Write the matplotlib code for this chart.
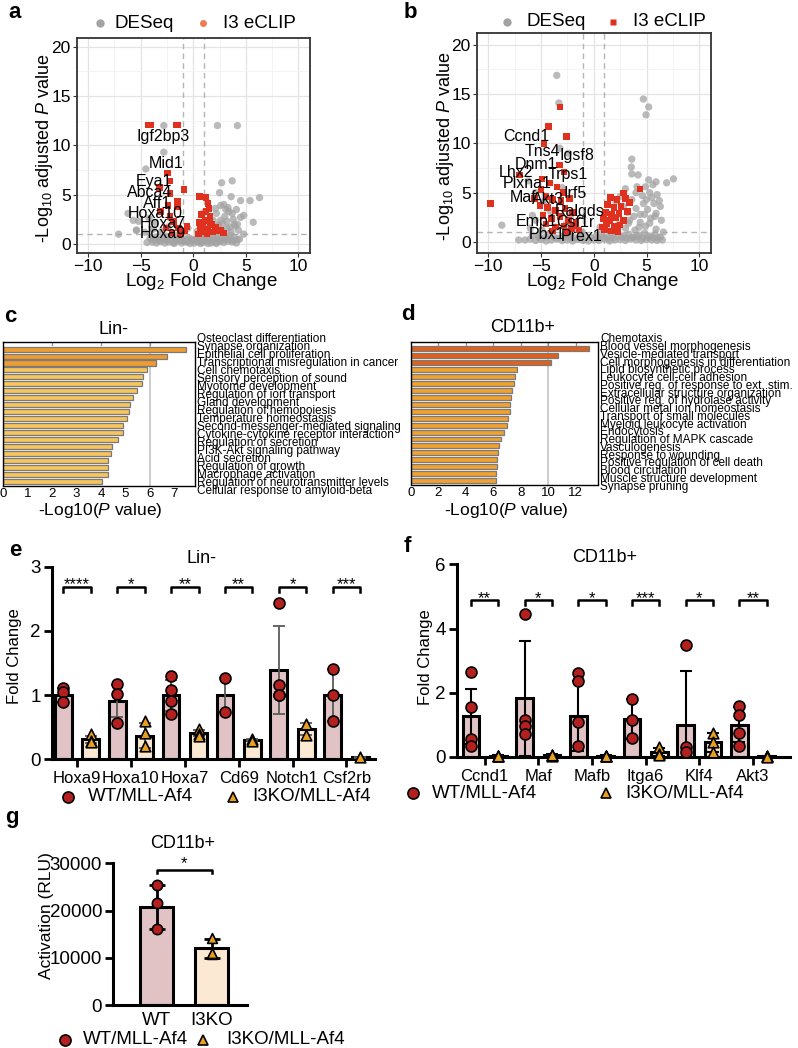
import matplotlib
matplotlib.use('Agg')
import matplotlib.pyplot as plt
from matplotlib.lines import Line2D
import numpy as np

plt.rcParams['font.family'] = ['Liberation Sans', 'DejaVu Sans']
plt.rcParams['mathtext.fontset'] = 'custom'
plt.rcParams['mathtext.rm'] = 'Liberation Sans'
plt.rcParams['mathtext.it'] = 'Liberation Sans:italic'
plt.rcParams['mathtext.bf'] = 'Liberation Sans:bold'

# ---------------- data ----------------
# panel a volcano (Lin-)
a_gray_x = [-4.4, -3.9, -3.5, -3.1, -2.7, -2.3, -1.9, -1.5, -1.1, -0.7, -0.3, 0.1, 0.5, 0.9, 1.3, 1.7, 2.1, 2.5, 2.9, 3.3, 3.7, 4.1,
            -4.1, -3.6, -3.2, -2.6, -2.1, -1.7, -1.2, -0.8, -0.4, 0.3, 0.7, 1.1, 1.5, 1.9, 2.3, 2.7, 3.1, 3.5, 3.9, 4.4,
            -5.4, -4.6, -3.8, -3.0, -2.4, -1.0, -0.5, 0.4, 0.8, 1.2, 2.0, 2.4, 2.8, 3.2, 3.6, 4.0, 4.3, 4.8,
            -6.2, -5.7, -5.2, -4.2, -3.6, 1.0, 1.6, 2.2, 2.6, 3.0, 3.4, 3.8, 4.2, 4.5, 4.8, 5.7,
            -2.5, -1.8, -1.3, -0.9, -0.5, -0.1, 0.3, 0.7, 1.0, 1.4, 1.8, 2.2,
            -3.8, -3.3, -2.9, -2.5, -2.0, -1.6, -1.0, -0.6, -0.2, 0.2, 0.6, 1.0, 1.4, 1.8, 2.2, 2.6, 3.0, 3.4, 3.8, 4.2,
            1.3, 1.9, 2.4, 2.8, 3.2, 3.5, 3.9, 2.1, 2.6, 3.1, 3.7, 4.1,
            -2.8, 2.3, 4.2, -2.8, -4.5, 2.7, 3.7, 2.5, 3.6, 4.5, 5.4, 6.3, 2.9, 3.3, -7.1, -5.4]
a_gray_y = [0.15, 0.2, 0.1, 0.25, 0.1, 0.2, 0.15, 0.3, 0.1, 0.2, 0.05, 0.1, 0.2, 0.15, 0.3, 0.1, 0.2, 0.25, 0.15, 0.3, 0.2, 0.1,
            0.6, 0.7, 0.5, 0.8, 0.6, 0.9, 0.7, 0.5, 0.6, 0.55, 0.8, 0.6, 0.9, 0.7, 0.5, 0.8, 0.6, 0.9, 0.7, 0.5,
            1.4, 1.2, 1.5, 1.3, 1.7, 1.2, 1.6, 1.3, 1.8, 1.1, 1.5, 1.9, 1.3, 1.6, 1.2, 1.8, 1.4, 1.0,
            3.1, 2.4, 2.3, 2.6, 2.2, 3.2, 2.6, 3.1, 2.4, 2.8, 3.3, 2.5, 2.0, 2.7, 2.9, 2.2,
            0.35, 0.05, 0.4, 0.3, 0.25, 0.35, 0.3, 0.05, 0.4, 0.05, 0.35, 0.05,
            0.45, 0.35, 0.55, 0.4, 0.45, 0.6, 0.35, 0.45, 0.5, 0.4, 0.45, 0.35, 0.5, 0.4, 0.6, 0.45, 0.4, 0.5, 0.35, 0.45,
            2.0, 2.4, 1.9, 2.1, 2.3, 1.7, 2.0, 3.6, 3.9, 3.5, 3.1, 3.5,
            12.0, 12.0, 12.0, 9.3, 7.6, 6.2, 6.4, 5.2, 4.8, 4.4, 4.4, 4.7, 4.0, 3.7, 1.0, 1.4]
a_red_x = [-4.3, -4.0, -1.5, -1.6, -2.45, -2.2, -3.2, -0.9, -2.2, -1.5, -1.5, -3.1, -2.4, -2.2, -1.9, -1.4, -2.6, -0.8,
           -1.2, -0.6, -2.0, 0.6, 1.2, 1.4, 1.5, 1.2, 0.8, 1.6, 1.1, 0.6, 1.8, 2.1, 0.7, 1.4, 2.6, 2.9, 1.0, 0.5, 1.9,
           0.9, 1.6, 1.3, 2.3]
a_red_y = [12.05, 12.05, 12.05, 12.05, 7.2, 6.4, 5.75, 5.5, 5.1, 4.3, 3.8, 3.3, 3.9, 2.8, 2.3, 1.6, 1.6, 1.3,
           1.0, 1.75, 1.1, 4.8, 4.7, 4.1, 3.6, 3.3, 3.0, 2.8, 2.4, 2.2, 2.0, 1.7, 1.5, 1.5, 1.4, 1.1, 1.2, 1.0, 1.2,
           1.8, 2.2, 1.0, 1.3]
a_genes = ['Igf2bp3', 'Mid1', 'Eya1', 'Abca4', 'Aff1', 'Hoxa10', 'Hoxa7', 'Hoxa9']
a_gene_x = [-2.86, -2.57, -3.7, -4.1, -3.4, -3.6, -2.86, -2.9]
a_gene_y = [10.85, 8.2, 6.3, 5.2, 4.15, 3.1, 2.1, 1.1]

# panel b volcano (CD11b+)
b_gray_x = [-6.5, -6.0, -5.5, -5.0, -4.5, -4.0, -3.5, -3.0, -2.5, -2.0, -1.5, -1.0, -0.5, 0.0, 0.5, 1.0, 1.5, 2.0, 2.5, 3.0, 3.5, 4.0,
            4.5, 5.0, 5.5, 6.0, 6.5,
            -5.8, -5.2, -4.3, -3.8, -2.8, -2.2, -1.2, -0.7, 0.2, 0.7, 1.3, 1.8, 2.3, 2.8, 3.3, 3.8, 4.3, 4.8, 5.3, 5.8, 6.3,
            -8.7, -6.0, -5.5, -4.9, -3.6, -2.6, -1.6, -1.1, 0.6, 1.5, 2.4, 3.0, 3.4, 3.9, 4.4, 4.9, 5.4, 5.9, 6.4, 6.6,
            -5.8, -4.7, -4.1, -2.2, 2.1, 2.8, 3.2, 3.6, 4.0, 4.4, 4.7, 5.1, 5.5, 5.9, 6.3,
            -5.2, -4.6, -3.4, -2.9, -2.4, -1.8, -1.3, -0.3, 0.4, 0.9, 1.4, 1.9, 2.6, 3.1, 3.6, 4.1, 4.6, 5.1, 5.6, 6.1,
            3.3, 3.8, 4.3, 4.8, 5.3, 5.8, 4.1, 4.6, 5.0, 5.7, 6.2,
            -3.5, -3.3, 4.7, 5.2, 4.95, -3.2, -2.4, 3.6, 3.55, 3.6, 4.2, 5.2, 7.55, 5.9, 6.9, 4.9, 5.6, 3.0, 4.0, 5.3,
            6.0, 2.5, -7.1, -6.2, -5.5, -3.0]
b_gray_y = [0.2, 0.3, 0.15, 0.25, 0.1, 0.2, 0.3, 0.15, 0.2, 0.1, 0.25, 0.15, 0.1, 0.2, 0.15, 0.3, 0.1, 0.2, 0.25, 0.15, 0.3, 0.2,
            0.15, 0.25, 0.2, 0.15, 0.2,
            0.7, 0.6, 0.8, 0.5, 0.7, 0.6, 0.9, 0.5, 0.6, 0.8, 0.5, 0.7, 0.9, 0.6, 0.8, 0.5, 0.7, 0.9, 0.6, 0.8, 0.5,
            1.7, 1.4, 2.2, 1.2, 1.5, 1.8, 1.3, 1.0, 1.5, 1.1, 1.8, 1.4, 2.2, 1.2, 2.0, 1.6, 2.4, 1.3, 2.2, 1.0,
            2.7, 4.1, 3.1, 2.7, 4.1, 3.6, 3.0, 4.3, 3.4, 2.8, 3.9, 3.3, 4.5, 2.9, 3.6,
            0.45, 0.5, 0.4, 0.55, 0.45, 0.4, 0.5, 0.45, 0.4, 0.5, 0.35, 0.45, 0.5, 0.4, 0.45, 0.55, 0.4, 0.5, 0.45, 0.4,
            1.9, 2.6, 1.5, 2.8, 1.9, 2.6, 5.6, 4.7, 4.3, 3.9, 4.2,
            16.9, 14.1, 14.5, 13.7, 12.9, 9.5, 9.0, 8.4, 7.6, 6.9, 6.8, 6.3, 6.4, 6.1, 6.0, 5.6, 5.8, 5.4, 5.0, 5.0,
            4.8, 4.6, 0.2, 6.2, 5.0, 5.5]
b_red_x = [-9.75, -7.03, -4.3, -3.2, -2.6, -4.7, -3.25, -2.8, -4.9, -4.2, -5.0, -3.5, -2.9, -4.5, -3.9, -3.1, -2.3, -5.1,
           -4.4, -3.6, -2.7, -2.0, -4.8, -4.0, -3.2, -2.4, -1.7, -4.5, -3.6, -2.8, -2.1, -1.4, -3.9, -2.5, -1.9, -5.6,
           4.4, 2.8, 1.6, 2.2, 3.0, 1.3, 1.9, 2.6, 1.1, 1.7, 2.4, 3.2, 0.9, 1.5, 2.1, 2.8, 1.2, 1.9, 2.5, 1.0, 1.7, 2.3,
           0.8, 3.4]
b_red_y = [3.9, 6.8, 11.7, 13.7, 10.7, 10.0, 7.8, 7.1, 6.4, 6.0, 5.3, 5.6, 5.0, 4.6, 4.3, 4.2, 4.4, 3.7,
           3.5, 3.2, 3.4, 3.0, 2.7, 2.4, 2.6, 2.2, 2.0, 1.8, 1.5, 1.6, 1.3, 1.2, 1.1, 1.05, 1.6, 4.4,
           5.35, 4.95, 4.5, 4.3, 4.4, 3.8, 3.5, 3.6, 3.0, 2.8, 2.9, 3.1, 2.4, 2.2, 2.5, 2.2, 1.8, 1.6, 1.7, 1.2, 1.1, 1.05,
           1.5, 4.0]
b_genes = ['Ccnd1', 'Tns4', 'Igsf8', 'Dnm1', 'Lhx2', 'Trps1', 'Plxna1', 'Irf5', 'Maf', 'Akt3', 'Ralgds', 'Emp1',
           'Csf1r', 'Pbx1', 'Prex1']
b_gene_x = [-6.4, -4.9, -1.6, -5.5, -7.4, -2.5, -6.3, -1.75, -6.7, -4.3, -1.3, -5.4, -1.75, -4.4, -1.1]
b_gene_y = [10.7, 9.2, 8.8, 7.9, 7.0, 6.8, 5.9, 4.95, 4.5, 4.3, 3.1, 2.1, 2.0, 0.8, 0.55]

# panel c enrichment (Lin-)
c_terms = ['Osteoclast differentiation', 'Synapse organization', 'Epithelial cell proliferation',
           'Transcriptional misregulation in cancer', 'Cell chemotaxis', 'Sensory perception of sound',
           'Myotome development', 'Regulation of ion transport', 'Gland development', 'Regulation of hemopoiesis',
           'Temperature homeostasis', 'Second-messenger-mediated signaling', 'Cytokine-cytokine receptor interaction',
           'Regulation of secretion', 'PI3K-Akt signaling pathway', 'Acid secretion', 'Regulation of growth',
           'Macrophage activation', 'Regulation of neurotransmitter levels', 'Cellular response to amyloid-beta']
c_vals = [7.46, 6.68, 6.23, 5.86, 5.70, 5.68, 5.46, 5.32, 5.18, 5.15, 5.06, 4.92, 4.90, 4.71, 4.45, 4.41, 4.30,
          4.28, 4.27, 4.03]

# panel d enrichment (CD11b+)
d_terms = ['Chemotaxis', 'Blood vessel morphogenesis', 'Vesicle-mediated transport',
           'Cell morphogenesis in differentiation', 'Lipid biosynthetic process', 'Leukocyte cell-cell adhesion',
           'Positive reg. of response to ext. stim.', 'Extracellular structure organization',
           'Positive reg. of hydrolase activity', 'Cellular metal ion homeostasis', 'Transport of small molecules',
           'Myeloid leukocyte activation', 'Endocytosis', 'Regulation of MAPK cascade', 'Vasculogenesis',
           'Response to wounding', 'Positive regulation of cell death', 'Blood circulation',
           'Muscle structure development', 'Synapse pruning']
d_vals = [12.94, 10.7, 10.2, 7.73, 7.6, 7.5, 7.4, 7.3, 7.25, 7.2, 7.1, 7.0, 6.75, 6.6, 6.45, 6.35, 6.3, 6.25,
          6.22, 6.18]

# panel e qPCR (Lin-)
e_genes = ['Hoxa9', 'Hoxa10', 'Hoxa7', 'Cd69', 'Notch1', 'Csf2rb']
e_wt_mean = [1.0, 0.91, 1.0, 1.0, 1.39, 1.0]
e_wt_sd = [0.11, 0.25, 0.24, 0.27, 0.69, 0.40]
e_ko_mean = [0.31, 0.37, 0.41, 0.30, 0.47, 0.03]
e_ko_sd = [0.06, 0.19, 0.05, 0.02, 0.09, 0.01]
e_wt_pts = [[1.11, 1.05, 0.89], [1.17, 1.01, 0.56], [1.29, 1.08, 0.91, 0.71], [1.26, 0.73],
            [2.43, 1.15, 1.0, 1.0], [1.40, 1.0, 0.59]]
e_ko_pts = [[0.39, 0.29, 0.27], [0.59, 0.41, 0.20], [0.47, 0.40, 0.37], [0.31, 0.29], [0.55, 0.38], [0.03]]
e_stars = ['****', '*', '**', '**', '*', '***']

# panel f qPCR (CD11b+)
f_genes = ['Ccnd1', 'Maf', 'Mafb', 'Itga6', 'Klf4', 'Akt3']
f_wt_mean = [1.27, 1.82, 1.27, 1.17, 1.0, 1.0]
f_wt_sd = [0.86, 1.78, 1.10, 0.62, 1.67, 0.55]
f_ko_mean = [0.03, 0.05, 0.03, 0.15, 0.45, 0.02]
f_ko_sd = [0.02, 0.03, 0.02, 0.12, 0.30, 0.01]
f_wt_pts = [[2.65, 1.55, 0.55, 0.35], [4.45, 1.15, 0.95, 0.7], [2.62, 2.38, 1.1, 0.35], [1.8, 1.15, 0.6],
            [3.5, 0.3, 0.15], [1.6, 1.3, 0.75, 0.35]]
f_ko_pts = [[0.04, 0.02, 0.03], [0.06, 0.04, 0.05], [0.03, 0.02, 0.04], [0.30, 0.10, 0.05],
            [0.75, 0.45, 0.15], [0.02, 0.03, 0.01]]
f_stars = ['**', '*', '*', '***', '*', '**']

# panel g luciferase
g_groups = ['WT', 'I3KO']
g_mean = [20700, 12000]
g_sd = [4700, 2000]
g_wt_pts = [25400, 21500, 16100]
g_ko_pts = [14100, 10800, 11000]

# ---------------- style ----------------
GRAY = '#A3A3A3'
RED = '#E0301E'
WT_FILL = '#E2C3C5'
KO_FILL = '#FCE9D3'
WT_DOT = '#B3201E'
KO_TRI = '#E9A021'

W, H = 798, 1048
fig = plt.figure(figsize=(W / 100, H / 100), dpi=100)
fig.patch.set_facecolor('white')


def box(l, t, r, b):
    return fig.add_axes([l / W, 1 - b / H, (r - l) / W, (b - t) / H])


def ftext(x, y, s, **kw):
    kw.setdefault('ha', 'center')
    kw.setdefault('va', 'center')
    fig.text(x / W, 1 - y / H, s, **kw)


def fmark(x, y, **kw):
    fig.add_artist(Line2D([x / W], [1 - y / H], transform=fig.transFigure, linestyle='none', **kw))


def volcano(ax, gx, gy, rx, ry, genes, gxs, gys, ylim):
    ax.set_xlim(-11.05, 11.1)
    ax.set_ylim(*ylim)
    ax.set_xticks([-10, -5, 0, 5, 10])
    ax.set_xticks([-7.5, -2.5, 2.5, 7.5], minor=True)
    ax.set_yticks([0, 5, 10, 15, 20])
    ax.set_yticks([2.5, 7.5, 12.5, 17.5], minor=True)
    ax.grid(which='major', color='#E4E4E4', lw=0.9)
    ax.grid(which='minor', color='#F2F2F2', lw=0.6)
    ax.set_axisbelow(True)
    for s in ax.spines.values():
        s.set_color('#333333')
        s.set_linewidth(1.3)
    ax.tick_params(which='major', labelsize=12.5, length=3, color='#333333', pad=1.5)
    ax.tick_params(which='minor', length=0)
    for v in (-1, 1):
        ax.axvline(v, color='#B5B5B5', ls=(0, (4, 3)), lw=1, zorder=1)
    ax.axhline(1, color='#B5B5B5', ls=(0, (4, 3)), lw=1, zorder=1)
    ax.scatter(gx, gy, s=28, c=GRAY, alpha=0.75, edgecolors='none', zorder=2)
    ax.scatter(rx, ry, s=22, marker='s', c=RED, edgecolors='none', zorder=3)
    for name, x, y in zip(genes, gxs, gys):
        ax.text(x, y, name, fontsize=11.5, ha='center', va='center', zorder=4)


def enrich(ax, vals, ndark, dark, light, xmax, vline, xticks, topticks):
    n = len(vals)
    y = np.arange(n)
    cols = [dark] * ndark + [light] * (n - ndark)
    ax.barh(y, vals, height=0.72, color=cols, edgecolor='#7A7A7A', lw=0.9, zorder=2)
    ax.axvline(vline, color='#C8C8C8', lw=1.3, zorder=1)
    for v in topticks:
        ax.axvline(v, ymin=0.975, ymax=1, color='#909090', lw=0.9)
    ax.set_xlim(0, xmax)
    ax.set_ylim(n - 1 + 0.57, -1.05)
    ax.set_yticks([])
    ax.set_xticks(xticks)
    ax.tick_params(axis='x', length=0, labelsize=9.5, pad=1.5)
    for s in ax.spines.values():
        s.set_color('black')
        s.set_linewidth(1)


def prism(ax, cats, wm, wsd, km, ksd, wpts, kpts, ymax, yticks, xlim, ecol, elw,
          stars, ybr, ddrop, ystar):
    n = len(cats)
    x = np.arange(n)
    off, w = 0.255, 0.31
    ax.bar(x - off, wm, w, color=WT_FILL, edgecolor='black', lw=2.2, zorder=2)
    ax.bar(x + off, km, w, color=KO_FILL, edgecolor='black', lw=2.2, zorder=2)
    ax.errorbar(x - off, wm, yerr=wsd, fmt='none', ecolor=ecol, elinewidth=elw, capsize=4,
                capthick=elw, zorder=3)
    ax.errorbar(x + off, km, yerr=ksd, fmt='none', ecolor=ecol, elinewidth=elw, capsize=4,
                capthick=elw, zorder=3)
    for i in range(n):
        ax.scatter([i - off] * len(wpts[i]), wpts[i], s=62, marker='o', c=WT_DOT,
                   edgecolors='black', linewidths=1.2, zorder=4, clip_on=False)
        ax.scatter([i + off] * len(kpts[i]), kpts[i], s=58, marker='^', c=KO_TRI,
                   edgecolors='black', linewidths=1.2, zorder=4, clip_on=False)
        ax.plot([i - off, i - off, i + off, i + off], [ybr - ddrop, ybr, ybr, ybr - ddrop],
                color='black', lw=1.8)
        ax.text(i, ystar, stars[i], ha='center', va='baseline', fontsize=12)
    ax.set_xlim(*xlim)
    ax.set_ylim(0, ymax)
    ax.set_yticks(yticks)
    ax.set_xticks(x)
    ax.set_xticklabels(cats, fontsize=12)
    ax.spines['top'].set_visible(False)
    ax.spines['right'].set_visible(False)
    ax.spines['left'].set_linewidth(2.2)
    ax.spines['bottom'].set_linewidth(2.2)
    ax.tick_params(axis='y', length=6, width=2, labelsize=13.5, pad=2)
    ax.tick_params(axis='x', length=6, width=2, pad=2.5)


# ---------------- a ----------------
axa = box(77, 38, 310, 253)
volcano(axa, a_gray_x, a_gray_y, a_red_x, a_red_y, a_genes, a_gene_x, a_gene_y, (-0.91, 20.87))
ftext(45, 148, '-Log$_{10}$ adjusted $P$ value', fontsize=13, rotation=90)
ftext(201.7, 282, 'Log$_2$ Fold Change', fontsize=13.5)
fmark(100, 23, marker='o', ms=6, mfc=GRAY, mec='none')
ftext(114, 23, 'DESeq', fontsize=13.5, ha='left')
fmark(203.3, 23, marker='o', ms=5, mfc='#EE7A55', mec='none')
ftext(222.7, 23, 'I3 eCLIP', fontsize=13.5, ha='left')
ftext(15, 13, 'a', fontsize=16, fontweight='bold')

# ---------------- b ----------------
axb = box(477, 33, 711, 253)
volcano(axb, b_gray_x, b_gray_y, b_red_x, b_red_y, b_genes, b_gene_x, b_gene_y, (-1.12, 21.2))
ftext(445, 146, '-Log$_{10}$ adjusted $P$ value', fontsize=13, rotation=90)
ftext(602, 282, 'Log$_2$ Fold Change', fontsize=13.5)
fmark(507.3, 22, marker='o', ms=6, mfc=GRAY, mec='none')
ftext(526, 22, 'DESeq', fontsize=13.5, ha='left')
fmark(613.3, 22, marker='s', ms=5, mfc=RED, mec='none')
ftext(633.3, 22, 'I3 eCLIP', fontsize=13.5, ha='left')
ftext(410, 13, 'b', fontsize=16, fontweight='bold')

# ---------------- c ----------------
axc = box(3, 341.7, 195, 485.7)
enrich(axc, c_vals, 3, '#EE9B2F', '#F6C55C', 7.84, 6, range(0, 8), [2, 4, 6])
for i, t in enumerate(c_terms):
    ftext(197, 339 + i * 7.98, t, fontsize=8.5, ha='left')
ftext(113, 330, 'Lin-', fontsize=13)
ftext(100, 510, '-Log10($P$ value)', fontsize=12.5)
ftext(10, 317, 'c', fontsize=16, fontweight='bold')

# ---------------- d ----------------
axd = box(410.7, 341.7, 597.7, 484.5)
enrich(axd, d_vals, 3, '#E0611C', '#F0A12F', 13.6, 10, range(0, 13, 2), [2, 4, 6, 8, 10, 12])
for i, t in enumerate(d_terms):
    ftext(600, 339.3 + i * 7.76, t, fontsize=8.5, ha='left')
ftext(523, 328, 'CD11b+', fontsize=13)
ftext(506.7, 510, '-Log10($P$ value)', fontsize=12.5)
ftext(408, 315, 'd', fontsize=16, fontweight='bold')

# ---------------- e ----------------
axe = box(51.7, 566.7, 375, 759.3)
prism(axe, e_genes, e_wt_mean, e_wt_sd, e_ko_mean, e_ko_sd, e_wt_pts, e_ko_pts, 3, [0, 1, 2, 3],
      (-0.47, 5.53), '#5A5A5A', 1.3, e_stars, 2.68, 0.08, 2.65)
ftext(15, 656, 'Fold Change', fontsize=12, rotation=90)
ftext(201.7, 558.3, 'Lin-', fontsize=13)
fmark(68.3, 796.7, marker='o', ms=8, mfc=WT_DOT, mec='black', mew=1.2)
ftext(88.3, 796.7, 'WT/MLL-Af4', fontsize=13.5, ha='left')
fmark(233.3, 796.7, marker='^', ms=7.5, mfc=KO_TRI, mec='black', mew=1.2)
ftext(252.3, 796.7, 'I3KO/MLL-Af4', fontsize=13.5, ha='left')
ftext(15, 550, 'e', fontsize=16, fontweight='bold')

# ---------------- f ----------------
axf = box(456.7, 564.3, 790, 756.9)
prism(axf, f_genes, f_wt_mean, f_wt_sd, f_ko_mean, f_ko_sd, f_wt_pts, f_ko_pts, 6, [0, 2, 4, 6],
      (-0.52, 5.69), 'black', 1.5, f_stars, 4.89, 0.16, 4.79)
ftext(425, 657, 'Fold Change', fontsize=12, rotation=90)
ftext(605, 557.3, 'CD11b+', fontsize=13)
fmark(413, 793, marker='o', ms=8, mfc=WT_DOT, mec='black', mew=1.2)
ftext(432, 793, 'WT/MLL-Af4', fontsize=13.5, ha='left')
fmark(606, 793, marker='^', ms=7.5, mfc=KO_TRI, mec='black', mew=1.2)
ftext(625, 793, 'I3KO/MLL-Af4', fontsize=13.5, ha='left')
ftext(407, 547, 'f', fontsize=16, fontweight='bold')

# ---------------- g ----------------
axg = box(113.3, 863.3, 246.7, 1005)
xg = np.arange(len(g_groups))
axg.bar(xg, g_mean, 0.6, color=[WT_FILL, KO_FILL], edgecolor='black', lw=2.2, zorder=2)
axg.errorbar(xg, g_mean, yerr=g_sd, fmt='none', ecolor='black', elinewidth=2, capsize=6, capthick=2, zorder=3)
axg.scatter([0] * len(g_wt_pts), g_wt_pts, s=55, marker='o', c=WT_DOT, edgecolors='black', linewidths=1.2, zorder=4)
axg.scatter([1] * len(g_ko_pts), g_ko_pts, s=50, marker='^', c=KO_TRI, edgecolors='black', linewidths=1.2, zorder=4)
axg.plot([0, 0, 1, 1], [28000, 28600, 28600, 28000], color='black', lw=1.8)
axg.text(0.5, 29000, '*', ha='center', va='baseline', fontsize=12)
axg.set_xlim(-0.785, 1.63)
axg.set_ylim(0, 30000)
axg.set_yticks([0, 10000, 20000, 30000])
axg.set_xticks(xg)
axg.set_xticklabels(g_groups, fontsize=13.5)
axg.spines['top'].set_visible(False)
axg.spines['right'].set_visible(False)
axg.spines['left'].set_linewidth(2.2)
axg.spines['bottom'].set_linewidth(2.2)
axg.tick_params(axis='y', length=6, width=2, labelsize=13.5, pad=2)
axg.tick_params(axis='x', length=0, pad=5)
ftext(46.7, 915.7, 'Activation (RLU)', fontsize=12.5, rotation=90)
ftext(182.7, 844, 'CD11b+', fontsize=13)
fmark(65, 1040, marker='o', ms=8, mfc=WT_DOT, mec='black', mew=1.2)
ftext(82.7, 1040, 'WT/MLL-Af4', fontsize=13.5, ha='left')
fmark(203.3, 1040, marker='^', ms=7.5, mfc=KO_TRI, mec='black', mew=1.2)
ftext(226.7, 1040, 'I3KO/MLL-Af4', fontsize=13.5, ha='left')
ftext(12, 818, 'g', fontsize=16, fontweight='bold')

fig.savefig('out.png', dpi=100, facecolor='white')
